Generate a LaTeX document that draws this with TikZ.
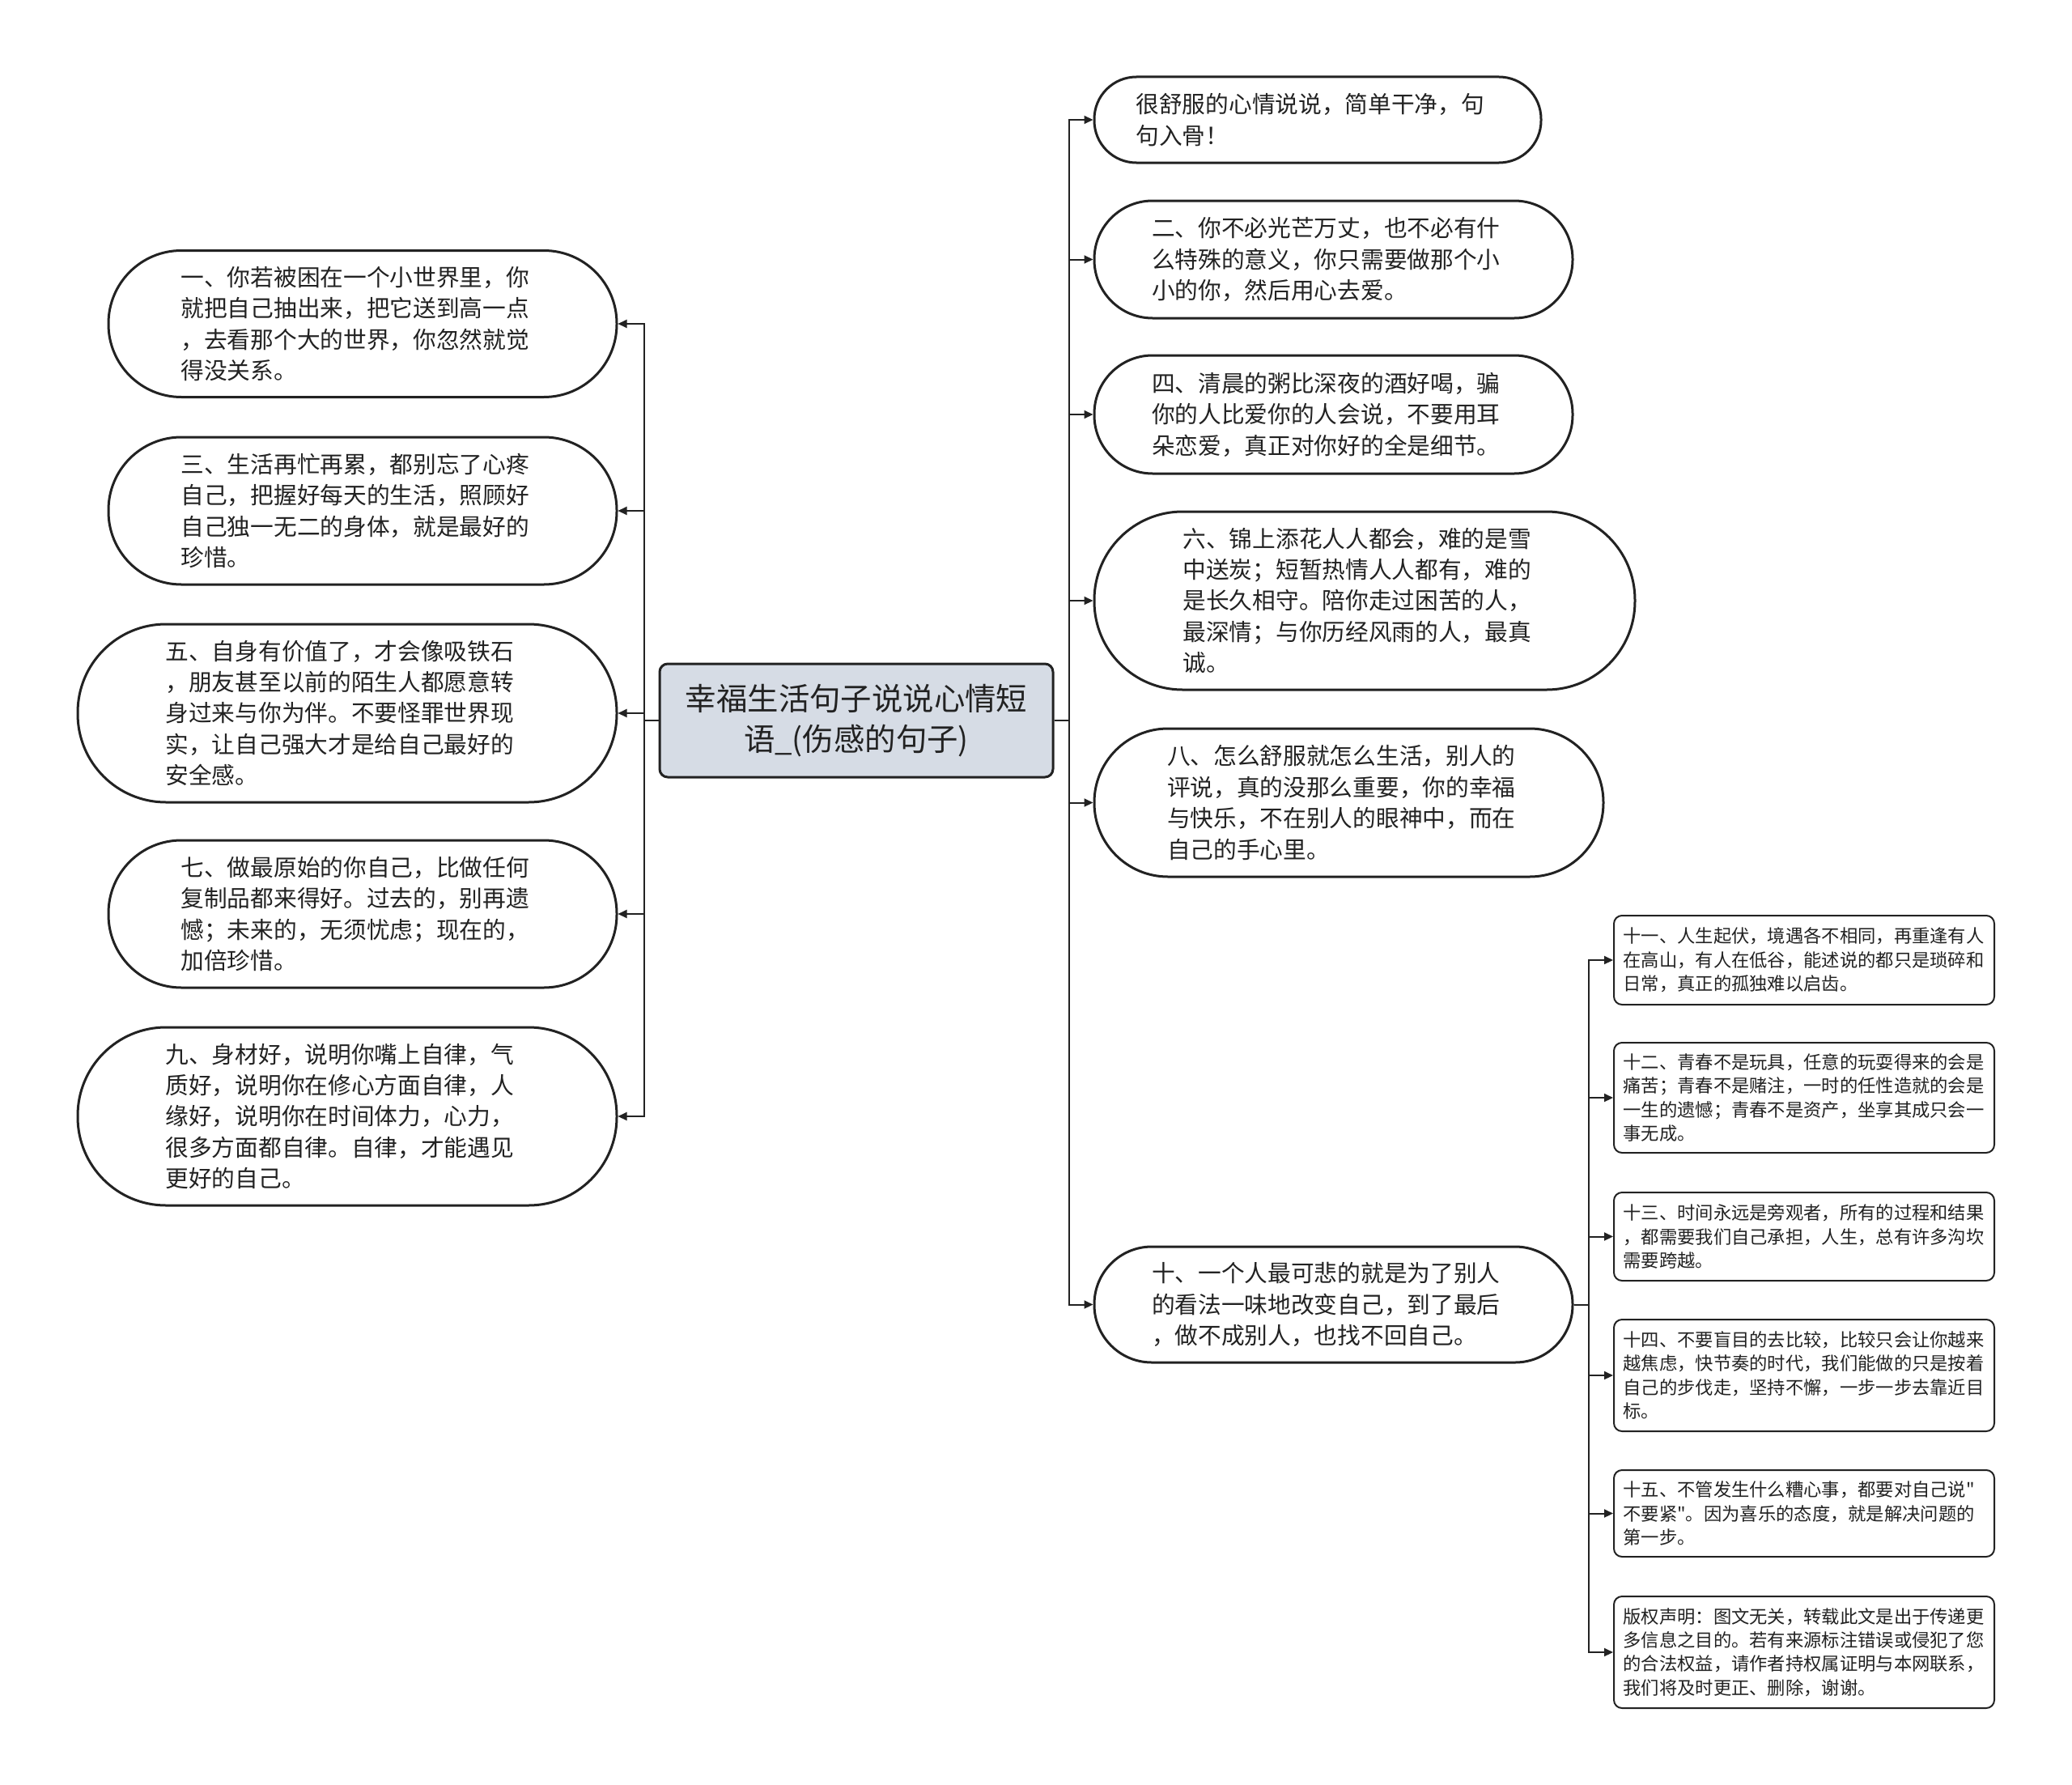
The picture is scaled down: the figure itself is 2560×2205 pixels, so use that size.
\documentclass[tikz,border=0pt]{standalone}
\usepackage{fontspec}
\setmainfont{Noto Sans CJK SC}[Ligatures=TeXOff]
\usetikzlibrary{arrows.meta}
\definecolor{centerfill}{RGB}{214,220,229}
\definecolor{ink}{RGB}{34,34,34}
\begin{document}
\begin{tikzpicture}[x=1pt,y=-1pt]
\tikzset{
 pill/.style n args={3}{draw=ink, line width=3pt, fill=white, rounded corners=#3, minimum width=#1, minimum height=#2, inner sep=0pt, text width=449pt, align=left, text=ink, font=\fontsize{28.7}{38.4}\selectfont},
 sbox/.style={draw=ink, line width=2pt, fill=white, rounded corners=10pt, minimum width=470pt, inner sep=0pt, text width=447pt, align=left, text=ink, font=\fontsize{22.3}{29.4}\selectfont},
 rootbox/.style={draw=ink, line width=3pt, fill=centerfill, rounded corners=10pt, minimum width=486pt, minimum height=140pt, inner sep=0pt, align=center, text=ink, font=\fontsize{38.4}{50.6}\selectfont},
 link/.style={draw=ink, line width=2pt, -{Triangle[length=11pt,width=10pt]}},
}
\fill[white] (0,0) rectangle (2560,2205);
\useasboundingbox (0,0) rectangle (2560,2205);

% root
\node[rootbox] (c) at (1058,890) {幸福生活句子说说心情短\\语\_(伤感的句子)};

% left branch
\node[pill={628pt}{181pt}{90pt}] (l1) at (448,400) {一、你若被困在一个小世界里，你\\就把自己抽出来，把它送到高一点\\，去看那个大的世界，你忽然就觉\\得没关系。};
\node[pill={628pt}{182pt}{90pt}] (l3) at (448,631) {三、生活再忙再累，都别忘了心疼\\自己，把握好每天的生活，照顾好\\自己独一无二的身体，就是最好的\\珍惜。};
\node[pill={666pt}{220pt}{109pt}] (l5) at (429,881) {五、自身有价值了，才会像吸铁石\\，朋友甚至以前的陌生人都愿意转\\身过来与你为伴。不要怪罪世界现\\实，让自己强大才是给自己最好的\\安全感。};
\node[pill={628pt}{182pt}{90pt}] (l7) at (448,1129) {七、做最原始的你自己，比做任何\\复制品都来得好。过去的，别再遗\\憾；未来的，无须忧虑；现在的，\\加倍珍惜。};
\node[pill={666pt}{220pt}{109pt}] (l9) at (429,1379) {九、身材好，说明你嘴上自律，气\\质好，说明你在修心方面自律，人\\缘好，说明你在时间体力，心力，\\很多方面都自律。自律，才能遇见\\更好的自己。};

% right branch
\node[pill={552pt}{106pt}{52pt}] (r0) at (1628,148) {很舒服的心情说说，简单干净，句\\句入骨！};
\node[pill={591pt}{145pt}{72pt}] (r2) at (1647.5,320.5) {二、你不必光芒万丈，也不必有什\\么特殊的意义，你只需要做那个小\\小的你，然后用心去爱。};
\node[pill={591pt}{146pt}{72pt}] (r4) at (1647.5,512) {四、清晨的粥比深夜的酒好喝，骗\\你的人比爱你的人会说，不要用耳\\朵恋爱，真正对你好的全是细节。};
\node[pill={668pt}{220pt}{109pt}] (r6) at (1686,742) {六、锦上添花人人都会，难的是雪\\中送炭；短暂热情人人都有，难的\\是长久相守。陪你走过困苦的人，\\最深情；与你历经风雨的人，最真\\诚。};
\node[pill={629pt}{183pt}{91pt}] (r8) at (1666.5,991.5) {八、怎么舒服就怎么生活，别人的\\评说，真的没那么重要，你的幸福\\与快乐，不在别人的眼神中，而在\\自己的手心里。};
\node[pill={591pt}{143pt}{71pt}] (r10) at (1647.5,1611.5) {十、一个人最可悲的就是为了别人\\的看法一味地改变自己，到了最后\\，做不成别人，也找不回自己。};

% sub branch of r10
\node[sbox, minimum height=110pt] (s11) at (2229,1186) {十一、人生起伏，境遇各不相同，再重逢有人\\在高山，有人在低谷，能述说的都只是琐碎和\\日常，真正的孤独难以启齿。};
\node[sbox, minimum height=136pt] (s12) at (2229,1356) {十二、青春不是玩具，任意的玩耍得来的会是\\痛苦；青春不是赌注，一时的任性造就的会是\\一生的遗憾；青春不是资产，坐享其成只会一\\事无成。};
\node[sbox, minimum height=109pt] (s13) at (2229,1527.5) {十三、时间永远是旁观者，所有的过程和结果\\，都需要我们自己承担，人生，总有许多沟坎\\需要跨越。};
\node[sbox, minimum height=138pt] (s14) at (2229,1699) {十四、不要盲目的去比较，比较只会让你越来\\越焦虑，快节奏的时代，我们能做的只是按着\\自己的步伐走，坚持不懈，一步一步去靠近目\\标。};
\node[sbox, minimum height=107pt] (s15) at (2229,1869.5) {十五、不管发生什么糟心事，都要对自己说"\\不要紧"。因为喜乐的态度，就是解决问题的\\第一步。};
\node[sbox, minimum height=138pt] (s16) at (2229,2041) {版权声明：图文无关，转载此文是出于传递更\\多信息之目的。若有来源标注错误或侵犯了您\\的合法权益，请作者持权属证明与本网联系，\\我们将及时更正、删除，谢谢。};

% connectors left
\foreach \n in {l1,l3,l5,l7,l9}
  \draw[link] (c.west) -- ++(-18,0) |- (\n.east);
% connectors right
\foreach \n in {r0,r2,r4,r6,r8,r10}
  \draw[link] (c.east) -- ++(18,0) |- (\n.west);
% connectors sub
\foreach \n in {s11,s12,s13,s14,s15,s16}
  \draw[link] (r10.east) -- ++(18,0) |- (\n.west);
\end{tikzpicture}
\end{document}
